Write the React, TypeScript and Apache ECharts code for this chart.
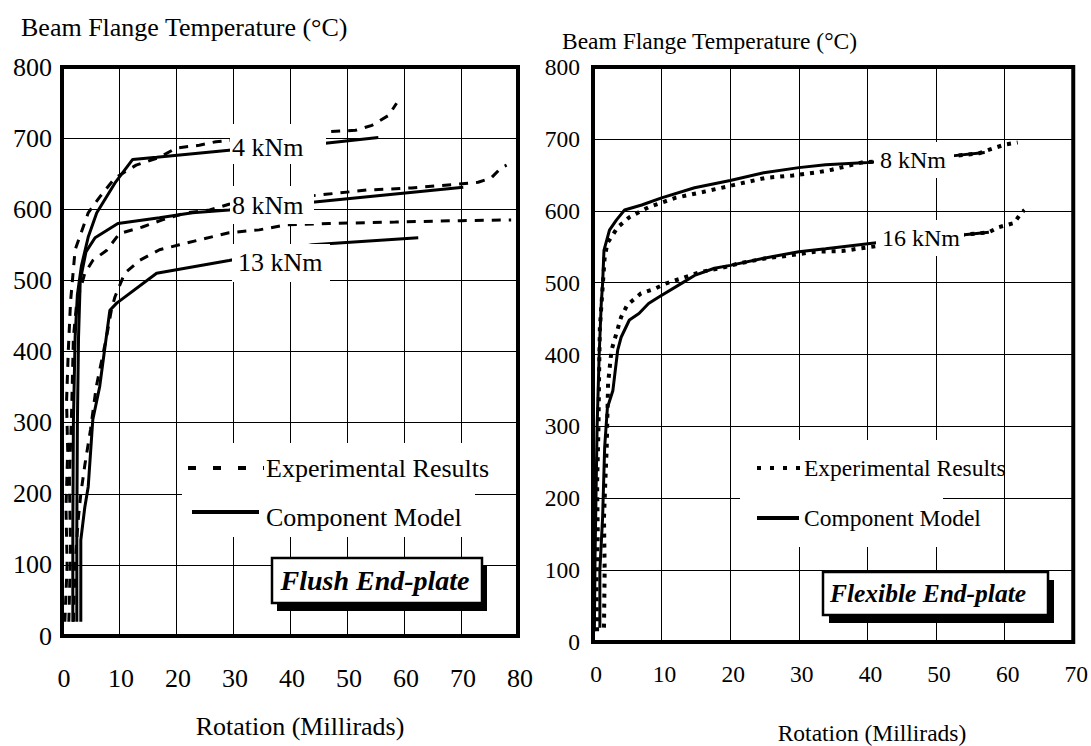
import React, { useEffect, useRef } from "react";
import * as echarts from "echarts";

const FONT = "serif";

// Flush end-plate (left panel): [rotation (mrad), temperature (°C)]
const flush4Exp = [[0.5,20],[0.9,100],[0.7,180],[1.0,260],[0.8,330],[1.1,400],[1.5,470],[2.3,543],[4.6,595],[6.6,617],[9.3,644],[13,662],[17.1,673],[20,686],[24.1,690],[27,695],[46.8,709],[51.5,711],[54.4,718],[57.3,732],[58.7,749]];
const flush4Model = [[1.9,20],[1.9,150],[2.0,300],[2.3,420],[2.7,480],[3.4,520],[4.6,561],[6.1,595],[9.3,637],[12.4,670],[16.6,673],[29.3,683],[45.4,692],[55.5,701]];
const flush8Exp = [[1.2,20],[1.5,120],[1.3,220],[1.7,320],[2.0,420],[2.6,470],[4.0,510],[5.4,528],[7.8,542],[10.1,566],[14.1,575],[17.6,585],[21.8,595],[25.9,599],[29.3,607],[46.3,621],[53.5,627],[61.3,630],[69.2,635],[73,638],[75.3,644],[77,658],[78,662]];
const flush8Model = [[2.6,20],[2.6,150],[2.7,300],[2.9,420],[3.2,500],[4.2,540],[5.8,560],[9.8,580],[17.1,588],[22.9,595],[29.3,599],[43.9,610],[70.4,631]];
const flush13Exp = [[2.0,20],[2.3,100],[2.8,160],[3.3,200],[4.0,240],[5.0,290],[6.0,350],[7.8,420],[8.7,460],[9.3,477],[11,510],[13.6,528],[17.1,543],[20.6,550],[24.1,557],[29.3,567],[34.6,571],[39.3,578],[46.8,580],[58.5,582],[70,584],[78.8,585]];
const flush13Model = [[3.3,20],[3.3,135],[4.0,181],[4.6,210],[5.4,304],[6.6,350],[8.4,458],[9.6,468],[16.6,510],[29.3,528],[43.9,550],[62.5,560]];

// Flexible end-plate (right panel)
const flex8Exp = [[0.6,15],[0.5,80],[0.7,150],[0.6,220],[0.8,300],[0.9,380],[1.0,437],[1.3,479],[1.7,535],[2.1,555],[3.6,577],[5.3,591],[8.1,605],[12,618],[16,626],[20.6,636],[25.3,646],[29.1,649],[32.4,653],[34.8,657],[39.1,667],[52.4,676],[56.3,680],[58.1,686],[60,692],[61.9,695]];
const flex8Model = [[0.2,15],[0.3,120],[0.6,300],[0.9,400],[1.2,470],[1.4,499],[1.6,545],[2.4,573],[3.4,587],[4.6,601],[7.1,608],[10,618],[14.8,632],[20,642],[24.9,653],[30,660],[33.9,664],[40,667],[52,676],[57.1,681]];
const flex16Exp = [[1.6,20],[1.7,100],[1.6,173],[1.8,224],[2.0,271],[2.2,360],[2.7,406],[4.1,452],[5.0,469],[7.0,485],[9.1,492],[10.7,499],[12.9,506],[15.7,515],[18.6,520],[21.4,527],[25.3,534],[28.1,537],[32.4,543],[36.3,544],[40,549],[53.4,566],[57.7,570],[59.1,577],[61.4,583],[62.4,597],[62.9,601]];
const flex16Model = [[1.0,20],[1.0,100],[1.4,173],[1.7,271],[2.1,326],[2.9,350],[3.6,406],[4.1,424],[5.3,448],[6.7,457],[8.1,471],[9.6,480],[12.9,499],[14.8,510],[17.7,520],[20,524],[24.9,534],[30,543],[33.9,547],[41,555],[53.4,566],[57.7,570]];

const yTitle = "Beam Flange Temperature (°C)";
const xTitle = "Rotation (Millirads)";
const legendExp = "Experimental Results";
const legendModel = "Component Model";

export default function App() {
  const ref = useRef<HTMLDivElement>(null);
  useEffect(() => {
    if (!ref.current) return;
    const chart = echarts.init(ref.current, undefined, { renderer: "svg" });

    const dashed = { color: "#000", width: 3, type: [9, 8] as any, cap: "butt" };
    const dotted = { color: "#000", width: 4, type: [4, 6] as any, cap: "butt" };
    const solid = { color: "#000", width: 3, type: "solid" };
    const mk = (data: number[][], idx: number, ls: any, name: string) => ({
      type: "line", name, data, xAxisIndex: idx, yAxisIndex: idx,
      showSymbol: false, symbol: "none", lineStyle: ls, z: 3, silent: true,
    });

    const xAxisBase = (gi: number, max: number, fs: number, margin: number, pad: number[]) => ({
      type: "value", gridIndex: gi, min: 0, max, interval: 10,
      axisLine: { show: false }, axisTick: { show: false },
      splitLine: { show: true, lineStyle: { color: "#000", width: 1 } },
      axisLabel: { color: "#000", fontFamily: FONT, fontSize: fs, margin, padding: pad },
    });
    const yAxisBase = (gi: number, fs: number, margin: number) => ({
      type: "value", gridIndex: gi, min: 0, max: 800, interval: 100,
      axisLine: { show: false }, axisTick: { show: false },
      splitLine: { show: true, lineStyle: { color: "#000", width: 1 } },
      axisLabel: { color: "#000", fontFamily: FONT, fontSize: fs, margin },
    });

    const txt = (text: string, x: number, y: number, fs: number, extra: any = {}) => ({
      type: "text", x, y, z: 20,
      style: { text, fill: "#000", fontFamily: FONT, fontSize: fs, verticalAlign: "middle", align: "left", ...extra },
    });
    const whiteRect = (x: number, y: number, w: number, h: number) => ({
      type: "rect", z: 15, shape: { x, y, width: w, height: h }, style: { fill: "#fff" },
    });
    const hline = (x1: number, x2: number, y: number, lw: number, dash: any) => ({
      type: "line", z: 20, shape: { x1, y1: y, x2, y2: y },
      style: { stroke: "#000", lineWidth: lw, lineDash: dash },
    });

    const graphic: any[] = [
      txt(yTitle, 21, 27, 26),
      txt(yTitle, 562, 41, 23.5),
      txt(xTitle, 300, 726, 26, { align: "center" }),
      txt(xTitle, 872, 733, 23.5, { align: "center" }),
      whiteRect(230, 124, 96, 40), txt("4 kNm", 232, 147, 26),
      whiteRect(230, 186, 84, 38), txt("8 kNm", 232, 205, 26),
      whiteRect(232, 244, 98, 38), txt("13 kNm", 238, 262, 26),
      whiteRect(874, 142, 80, 36), txt("8 kNm", 880, 160, 24),
      whiteRect(876, 220, 88, 36), txt("16 kNm", 882, 238, 24),
      whiteRect(182, 443, 293, 94),
      hline(188, 264, 468, 4, [8, 17]),
      txt(legendExp, 266, 468, 26),
      hline(192, 259, 512, 4, null),
      txt(legendModel, 266, 517, 26),
      whiteRect(740, 440, 203, 107),
      hline(757, 801, 468, 4, [4, 9]),
      txt(legendExp, 804, 468, 23.5),
      hline(757, 799, 518, 4, null),
      txt(legendModel, 804, 518, 23.5),
      { type: "rect", z: 16, shape: { x: 277, y: 566, width: 210, height: 45 }, style: { fill: "#000" } },
      { type: "rect", z: 17, shape: { x: 272, y: 558, width: 210, height: 45 }, style: { fill: "#fff", stroke: "#000", lineWidth: 2.5 } },
      txt("Flush End-plate", 375, 580, 28, { align: "center", fontStyle: "italic", fontWeight: "bold" }),
      { type: "rect", z: 16, shape: { x: 829, y: 580, width: 225, height: 43 }, style: { fill: "#000" } },
      { type: "rect", z: 17, shape: { x: 823, y: 572, width: 225, height: 43 }, style: { fill: "#fff", stroke: "#000", lineWidth: 2.5 } },
      txt("Flexible End-plate", 928, 593, 25.5, { align: "center", fontStyle: "italic", fontWeight: "bold" }),
    ];

    const option: any = {
      animation: false,
      textStyle: { fontFamily: FONT },
      grid: [
        { left: 62, top: 67, width: 456, height: 569, show: true, borderColor: "#000", borderWidth: 4, backgroundColor: "transparent", z: 4 },
        { left: 593, top: 67, width: 490, height: 575, show: true, borderColor: "#000", borderWidth: 4, backgroundColor: "transparent", z: 4 },
      ],
      xAxis: [
        xAxisBase(0, 80, 26, 29, [0, 0, 0, 4]),
        xAxisBase(1, 70, 23.5, 20, [0, 0, 0, 6]),
      ],
      yAxis: [yAxisBase(0, 26, 10), yAxisBase(1, 23.5, 13)],
      series: [
        mk(flush4Exp, 0, dashed, "flush4Exp"),
        mk(flush4Model, 0, solid, "flush4Model"),
        mk(flush8Exp, 0, dashed, "flush8Exp"),
        mk(flush8Model, 0, solid, "flush8Model"),
        mk(flush13Exp, 0, dashed, "flush13Exp"),
        mk(flush13Model, 0, solid, "flush13Model"),
        mk(flex8Exp, 1, dotted, "flex8Exp"),
        mk(flex8Model, 1, solid, "flex8Model"),
        mk(flex16Exp, 1, dotted, "flex16Exp"),
        mk(flex16Model, 1, solid, "flex16Model"),
      ],
      graphic,
    };
    chart.setOption(option);
    return () => chart.dispose();
  }, []);
  return (
    <div
      ref={ref}
      style={{ position: "absolute", left: 0, top: 0, width: 1091, height: 746, background: "#fff" }}
    />
  );
}
